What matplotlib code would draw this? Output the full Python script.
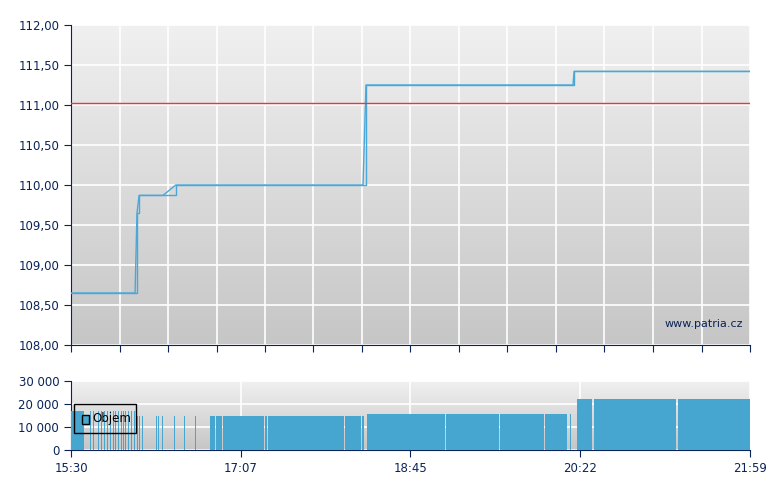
import matplotlib
matplotlib.use("Agg")
import matplotlib.pyplot as plt
import numpy as np

# price step line (minutes since 15:30)
price_t = [0, 36.7, 37.8, 39.0, 52.7, 60.0, 167.3, 169.0, 287.6, 288.2, 389]
price_v = [108.65, 108.65, 109.65, 109.87, 109.87, 110.0, 110.0, 111.25, 111.25, 111.42, 111.42]
ref_price = 111.03

# volume segments: start minute, end minute, height
vol_start = [0, 10.9, 12.6, 15.5, 17.2, 18.9, 20.6, 22.3, 24.1, 25.2, 26.9, 28.6, 29.8, 30.9, 32.7, 34.4, 36.1,
             37.8, 39.0, 40.7, 48.7, 49.9, 52.1, 59.0, 64.7, 70.9,
             79.6, 83.1, 87.1, 111.1, 112.8, 151.2, 157.0, 166.8,
             169.6, 214.9, 245.9, 271.7, 286.0,
             289.9, 290.5, 299.7, 347.9]
vol_end = [7.4, 11.5, 13.2, 16.1, 17.8, 19.5, 21.2, 22.9, 24.7, 25.8, 27.5, 29.2, 30.4, 31.5, 33.3, 35.0, 36.7,
           38.4, 39.6, 41.3, 49.3, 50.5, 52.7, 59.6, 65.3, 71.5,
           82.5, 86.5, 110.5, 112.2, 151.2, 156.4, 166.2, 168.0,
           214.3, 245.3, 271.1, 284.3, 286.6,
           290.5, 298.5, 346.7, 389]
vol_h = [17000] * 17 + [15000] * 9 + [15000] * 8 + [15500] * 5 + [22000] * 4

navy = "#0a2458"
fig = plt.figure(figsize=(7.8, 4.9), dpi=100)
ax = fig.add_axes([71/780, 1-345/490, 679/780, 320/490])
ax2 = fig.add_axes([71/780, 1-450/490, 679/780, 69/490])

grad = np.linspace(0, 1, 256).reshape(-1, 1)
from matplotlib.colors import LinearSegmentedColormap
cm = LinearSegmentedColormap.from_list("g", ["#f0f0f0", "#c6c6c6"])
for a in (ax, ax2):
    a.imshow(grad, aspect="auto", cmap=cm, extent=[0, 1, 0, 1], transform=a.transAxes, zorder=0)
    for s in ("top", "right"):
        a.spines[s].set_visible(False)
    for s in ("left", "bottom"):
        a.spines[s].set_color(navy)
    a.tick_params(colors=navy, labelcolor=navy, labelsize=8.5, direction="out", length=5)
    a.set_xlim(0, 389)

# top
ax.set_ylim(108, 112)
yt = np.arange(108, 112.01, 0.5)
ax.set_yticks(yt)
ax.set_yticklabels([f"{v:.2f}".replace(".", ",") for v in yt])
xg = np.linspace(0, 389, 15)
ax.set_xticks(xg)
ax.set_xticklabels([])
ax.grid(True, color="white", lw=1.2, zorder=1)
ax.step(price_t, price_v, where="post", color="#4aa8d8", lw=1, zorder=3)
ax.plot(price_t, price_v, color="#4aa8d8", lw=1, zorder=3)
ax.axhline(ref_price, color="#e8383a", lw=1, zorder=3)
ax.text(0.99, 0.05, "www.patria.cz", transform=ax.transAxes, ha="right", va="bottom", color=navy, fontsize=8)

# bottom
ax2.set_ylim(0, 30000)
ax2.set_yticks([0, 10000, 20000, 30000])
ax2.set_yticklabels(["0", "10 000", "20 000", "30 000"])
xl = np.linspace(0, 389, 5)
ax2.set_xticks(xl)
ax2.set_xticklabels(["15:30", "17:07", "18:45", "20:22", "21:59"])
ax2.grid(True, color="white", lw=1.2, zorder=1)
w = [e - s for s, e in zip(vol_start, vol_end)]
ax2.bar(vol_start, vol_h, width=w, align="edge", color="#46a6d0", lw=0, zorder=3)
from matplotlib.patches import Rectangle
ax2.add_patch(Rectangle((0.005, 0.25), 0.09, 0.42, transform=ax2.transAxes, fill=False, ec="black", lw=1, zorder=5))
ax2.add_patch(Rectangle((0.016, 0.38), 0.01, 0.13, transform=ax2.transAxes, fc="#46a6d0", ec="black", lw=1, zorder=5))
ax2.text(0.031, 0.45, "Objem", transform=ax2.transAxes, va="center", fontsize=8.5, color="black", zorder=5)

fig.savefig("out.png", dpi=100)
